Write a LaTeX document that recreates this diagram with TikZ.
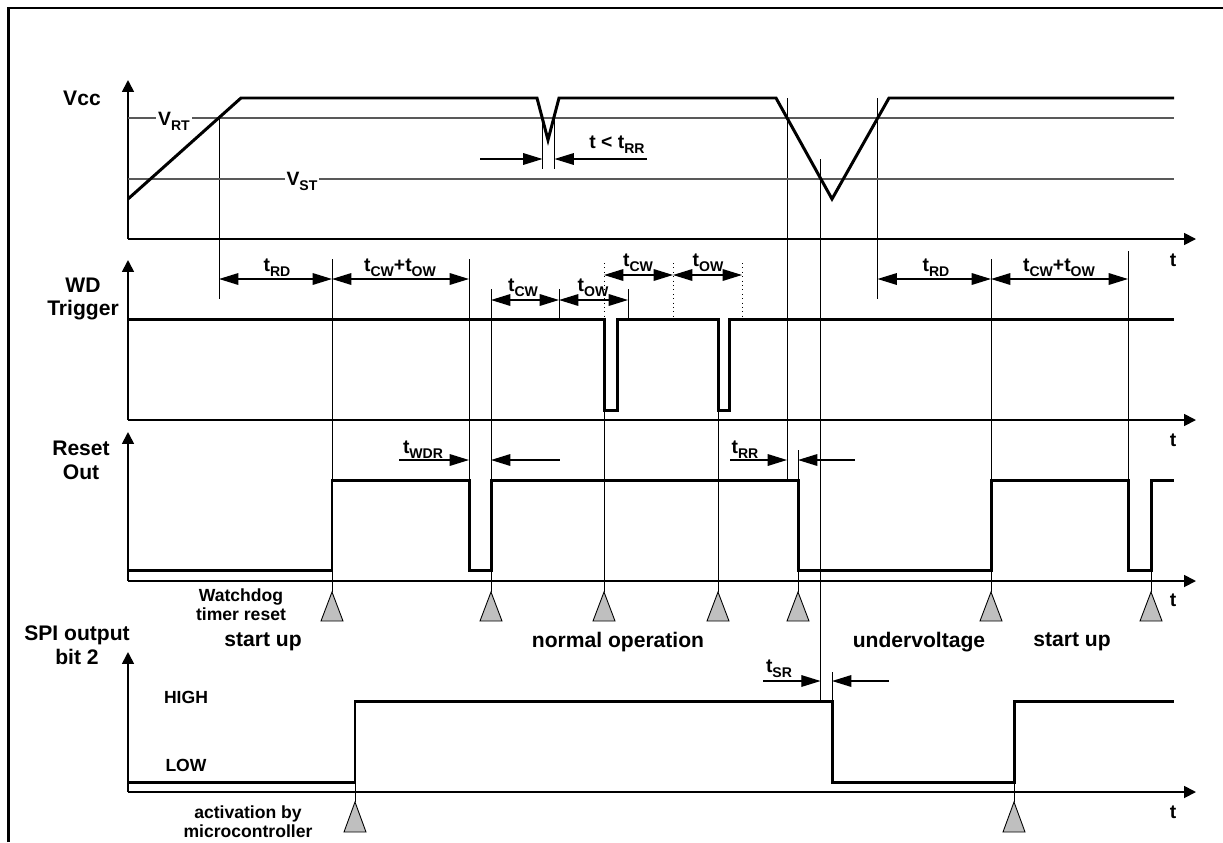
\documentclass[tikz,border=0pt]{standalone}
\usepackage{fontspec}
\setmainfont{Liberation Sans}
\usetikzlibrary{arrows.meta, positioning}

\newcommand{\lo}[1]{\raisebox{-0.55ex}{\fontsize{8}{9}\selectfont #1}}

\begin{document}
\begin{tikzpicture}[
    x=0.02cm, y=-0.02cm,
    font=\fontsize{11}{12}\selectfont\bfseries,
    every node/.style={inner sep=1pt},
    sig/.style={line width=1.7pt, line join=miter},
    guide/.style={line width=0.5pt},
    level/.style={line width=0.6pt, draw=black!65},
    axis/.style={line width=1pt, -{Triangle[length=6.8pt,width=6.8pt]}},
    dimarr/.style={line width=0.8pt,
        {Triangle[length=11pt,width=6.6pt]}-{Triangle[length=11pt,width=6.6pt]}},
    pointer/.style={line width=0.8pt, -{Triangle[length=11pt,width=6.6pt]}},
    trig/.style={draw, line width=0.5pt, fill=black!25},
    lbl/.style={font=\fontsize{12}{13.5}\selectfont\bfseries, align=center},
    small/.style={font=\fontsize{10}{11}\selectfont\bfseries, align=center}
]
\useasboundingbox (0,0) rectangle (1223,842);
\draw[line width=1.2pt] (8.5,842) -- (8.5,8) -- (1223,8);

% guide lines
\foreach \x/\ya/\yb in {219/118/299, 332/259/592, 469/259/480, 491/289/592,
                        559/289/319, 628/289/319, 604/410/592, 718/410/592,
                        787/98/480, 798/450/592, 820.6/159/701, 877.5/98/299,
                        991/259/592, 1128/251/480, 1151/570/592,
                        542.5/118/169, 554.5/118/169,
                        355/782/802, 1014/782/802, 832/672/701}
  \draw[guide] (\x,\ya) -- (\x,\yb);
\foreach \x in {604,673,742}
  \draw[guide, dotted] (\x,263) -- (\x,319);

% axes
\foreach \yb/\yt in {239/80, 420/260, 581/432, 792/652}{
  \draw[axis] (128,\yb) -- (128,\yt);
  \draw[axis] (128,\yb) -- (1196,\yb);
}
\foreach \y [count=\i] in {260,440,600,812}
  \node (t\i) at (1173,\y) {t};

% Vcc thresholds
\draw[level] (128,118) -- (1174,118);
\draw[level] (128,179) -- (1174,179);
\node[fill=white, anchor=base] (vrt) at (174,125) {V\lo{RT}};
\node[fill=white, anchor=base] (vst) at (302,185) {V\lo{ST}};

% signals
\draw[sig] (128,199) -- (241,98) -- (537,98) -- (548,140) -- (559,98) -- (776,98)
           -- (832,199) -- (889,98) -- (1174,98);
\draw[sig] (128,319) -- (604,319) -- (604,410) -- (617,410) -- (617,319)
           -- (718,319) -- (718,410) -- (729,410) -- (729,319) -- (1174,319);
\draw[sig] (128,570) -- (332,570) -- (332,480) -- (469,480) -- (469,570)
           -- (491,570) -- (491,480) -- (798,480) -- (798,570) -- (991,570)
           -- (991,480) -- (1128,480) -- (1128,570) -- (1151,570) -- (1151,480)
           -- (1174,480);
\draw[sig] (128,782) -- (355,782) -- (355,701) -- (832,701) -- (832,782)
           -- (1014,782) -- (1014,701) -- (1174,701);

% timing arrows
\foreach \xa/\xb/\y in {219/332/279, 332/469/279, 491/559/300, 559/628/300,
                        604/673/275, 673/742/275, 877.5/991/279, 991/1128/279}
  \draw[dimarr] (\xa,\y) -- (\xb,\y);
\draw[pointer] (480,159) -- (542.5,159);
\draw[pointer] (647,159) -- (554.5,159);
\draw[pointer] (399,460) -- (469,460);
\draw[pointer] (559.5,460) -- (491,460);
\draw[pointer] (730,460) -- (787,460);
\draw[pointer] (855,460) -- (798,460);
\draw[pointer] (763,681) -- (820.6,681);
\draw[pointer] (889,681) -- (832,681);

\node[anchor=base] (trd1) at (277,271) {t\lo{RD}};
\node[anchor=base] (tco1) at (400,271) {t\lo{CW}+t\lo{OW}};
\node[anchor=base] (tcw1) at (523,291) {t\lo{CW}};
\node[anchor=base] (tow1) at (593,291) {t\lo{OW}};
\node[anchor=base] (tcw2) at (638,266) {t\lo{CW}};
\node[anchor=base] (tow2) at (708,266) {t\lo{OW}};
\node[anchor=base] (trd2) at (936,271) {t\lo{RD}};
\node[anchor=base] (tco2) at (1059,271) {t\lo{CW}+t\lo{OW}};
\node[anchor=base] (tlt) at (617,148) {t < t\lo{RR}};
\node[anchor=base] (twdr) at (423,453) {t\lo{WDR}};
\node[anchor=base] (trr) at (745,453) {t\lo{RR}};
\node[anchor=base] (tsr) at (779,672) {t\lo{SR}};

% reset markers
\foreach \x in {332,491,604,718,798,991,1151}
  \draw[trig] (\x,592) -- (\x+11,621) -- (\x-11,621) -- cycle;
\foreach \x in {355,1014}
  \draw[trig] (\x,802) -- (\x+11,832) -- (\x-11,832) -- cycle;

% labels
\node[lbl] (vcc) at (82,98) {Vcc};
\node[lbl] (wd) at (83,299) {WD\\Trigger};
\node[lbl] (rst) at (81,460) {Reset\\Out};
\node[lbl] (spi) at (77,645) {SPI output\\bit 2};
\node[lbl] (su1) at (263,642) {start up};
\node[lbl] (norm) at (618,642) {normal operation};
\node[lbl] (uv) at (919,642) {undervoltage};
\node[lbl] (su2) at (1072,642) {start up};
\node[small] (wdtr) at (241,605) {Watchdog\\timer reset};
\node[small] (act) at (248,822) {activation by\\microcontroller};
\node[small] (high) at (186,697) {HIGH};
\node[small] (low) at (186,765) {LOW};
\end{tikzpicture}
\end{document}
